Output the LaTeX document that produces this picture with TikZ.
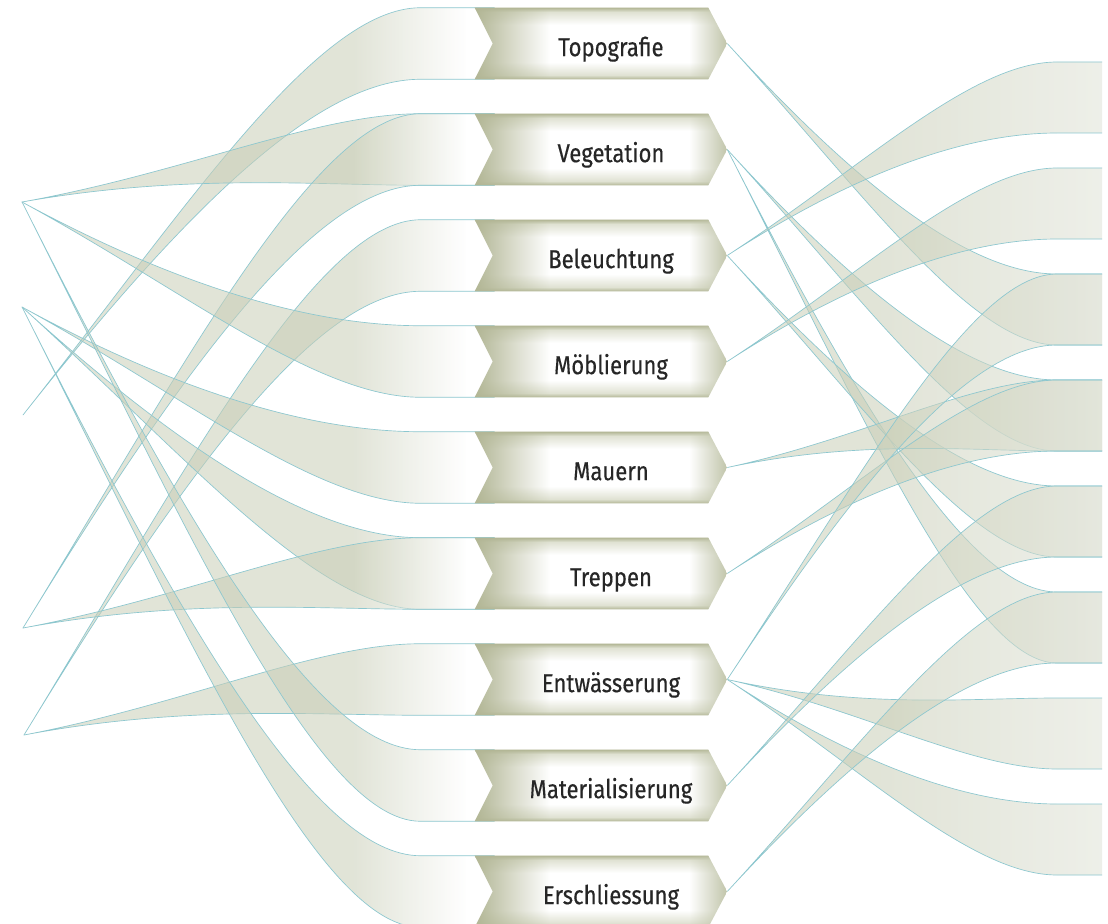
\documentclass[tikz,border=0pt]{standalone}
\usepackage{fontspec}
\setmainfont{Fira Sans}[FakeStretch=0.85,FakeBold=0.4]
\usetikzlibrary{calc,fadings}
\definecolor{bandc}{HTML}{C9CEB7}
\definecolor{bandlight}{HTML}{E0E3D7}
\definecolor{edgec}{HTML}{8CC7CF}
\definecolor{boxolive}{HTML}{B2B695}
\definecolor{boxlight}{HTML}{E0E2D3}
\definecolor{txtc}{HTML}{262626}
\pgfdeclarehorizontalshading{lfade}{100bp}{color(0bp)=(bandc); color(60bp)=(bandc); color(72bp)=(white); color(100bp)=(white)}
\pgfdeclarehorizontalshading{rfade}{100bp}{color(0bp)=(bandc); color(45bp)=(bandc); color(75bp)=(bandlight); color(100bp)=(bandlight)}
\pgfdeclareverticalshading{boxv}{100bp}{color(0bp)=(boxolive); color(25bp)=(boxolive); color(28bp)=(boxlight); color(37bp)=(white); color(63bp)=(white); color(72bp)=(boxlight); color(75bp)=(boxolive); color(100bp)=(boxolive)}
\pgfdeclarelayer{back}
\pgfdeclarelayer{boxes}
\pgfsetlayers{back,boxes,main}
\tikzset{
  boxnode/.style={minimum width=189pt, minimum height=53.25pt, inner sep=0pt, text height=19pt, text depth=0pt, text=txtc, font=\fontsize{19.5pt}{22pt}\selectfont},
  ribbonedge/.style={draw=edgec, line width=0.5pt, line join=round},
  lribbonfill/.style={shading=lfade, fill opacity=0.55},
  rribbonfill/.style={shading=rfade, fill opacity=0.55},
}
\newcommand\boxshape[1]{%
 \begin{pgfonlayer}{boxes}
  \shade[shading=boxv] (#1.north west) -- ($(#1.north east)+(-19,0)$) -- (#1.east) -- ($(#1.south east)+(-19,0)$) -- (#1.south west) -- ($(#1.west)+(18,0)$) -- cycle;
  \begin{scope}
   \clip (#1.north west) -- ($(#1.north east)+(-19,0)$) -- (#1.east) -- ($(#1.south east)+(-19,0)$) -- (#1.south west) -- ($(#1.west)+(18,0)$) -- cycle;
   \fill[boxolive, path fading=east] (#1.north west) rectangle ($(#1.south west)+(75,0)$);
   \fill[boxolive!80!white, path fading=west] ($(#1.north east)+(-38,0)$) rectangle (#1.south east);
  \end{scope}
 \end{pgfonlayer}}
\newcommand\lribbon[2]{%
 \coordinate (qT) at (#2.north west);
 \coordinate (qB) at (#2.south west);
 \coordinate (qM) at (#2.west);
 \coordinate (qC) at ($(qM)!0.35!(#1)$);
 \coordinate (qD) at (qC |- qM);
 \coordinate (qP) at ($(#1)!0.55!(qD)$);
 \coordinate (qE) at ($(qM)!0.12!(#1)$);
 \coordinate (qX) at ($(qM)+(20,0)$);
 \begin{pgfonlayer}{back}
  \shade[lribbonfill] (#1) .. controls (qP) and (qC |- qT) .. (qE |- qT) -- (qX |- qT) -- (qX |- qB) -- (qE |- qB) .. controls (qC |- qB) and (qP) .. (#1) -- cycle;
  \draw[ribbonedge] (qX |- qT) -- (qE |- qT) .. controls (qC |- qT) and (qP) .. (#1) .. controls (qP) and (qC |- qB) .. (qE |- qB) -- (qX |- qB);
 \end{pgfonlayer}}
\newcommand\rribbon[2]{%
 \coordinate (qS) at (#1.east);
 \coordinate (qM) at ($(#2t)!0.5!(#2b)$);
 \coordinate (qC) at ($(qM)!0.35!(qS)$);
 \coordinate (qD) at (qC |- qM);
 \coordinate (qP) at ($(qS)!0.55!(qD)$);
 \coordinate (qE) at ($(qM)!0.12!(qS)$);
 \begin{pgfonlayer}{back}
  \shade[rribbonfill] (qS) .. controls (qP) and (qC |- #2t) .. (qE |- #2t) -- (#2t) -- (#2b) -- (qE |- #2b) .. controls (qC |- #2b) and (qP) .. (qS) -- cycle;
  \draw[ribbonedge] (#2t) -- (qE |- #2t) .. controls (qC |- #2t) and (qP) .. (qS) .. controls (qP) and (qC |- #2b) .. (qE |- #2b) -- (#2b);
 \end{pgfonlayer}}
\begin{document}
\begin{tikzpicture}[x=0.75pt, y=-0.75pt]
\useasboundingbox (0,0) rectangle (1108,924);
\begin{pgfonlayer}{back}
 \fill[white] (0,0) rectangle (1108,924);
\end{pgfonlayer}
% left source points
\coordinate (L1) at (22,202);
\coordinate (L2) at (22,307);
\coordinate (L3) at (23,415);
\coordinate (L4) at (23,628);
\coordinate (L5) at (24,735);
% right targets
\coordinate (R1t) at (1102,62);  \coordinate (R1b) at (1102,133);
\coordinate (R2t) at (1102,168); \coordinate (R2b) at (1102,239);
\coordinate (R3t) at (1102,274); \coordinate (R3b) at (1102,345);
\coordinate (R4t) at (1102,380); \coordinate (R4b) at (1102,451);
\coordinate (R5t) at (1102,486); \coordinate (R5b) at (1102,557);
\coordinate (R6t) at (1102,592); \coordinate (R6b) at (1102,663);
\coordinate (R7t) at (1102,698); \coordinate (R7b) at (1102,769);
\coordinate (R8t) at (1102,804); \coordinate (R8b) at (1102,875);
% boxes
\node[boxnode] (topo)   at (601,43.5)  {\hspace*{15pt}Topografie};
\node[boxnode] (veg)    at (601,149.5) {\hspace*{15pt}Vegetation};
\node[boxnode] (bel)    at (601,255.5) {\hspace*{15pt}Beleuchtung};
\node[boxnode] (moeb)   at (601,361.5) {\hspace*{15pt}Möblierung};
\node[boxnode] (mauern) at (601,467.5) {\hspace*{15pt}Mauern};
\node[boxnode] (trep)   at (601,573.5) {\hspace*{15pt}Treppen};
\node[boxnode] (entw)   at (601,679.5) {\hspace*{15pt}Entwässerung};
\node[boxnode] (mat)    at (601,785.5) {\hspace*{15pt}Materialisierung};
\node[boxnode] (ersch)  at (601,891.5) {\hspace*{15pt}Erschliessung};
\boxshape{topo}\boxshape{veg}\boxshape{bel}\boxshape{moeb}\boxshape{mauern}
\boxshape{trep}\boxshape{entw}\boxshape{mat}\boxshape{ersch}
% left ribbons
\lribbon{L3}{topo}
\lribbon{L1}{veg}
\lribbon{L4}{veg}
\lribbon{L5}{bel}
\lribbon{L1}{moeb}
\lribbon{L2}{mauern}
\lribbon{L2}{trep}
\lribbon{L4}{trep}
\lribbon{L5}{entw}
\lribbon{L1}{mat}
\lribbon{L2}{ersch}
% right ribbons
\rribbon{topo}{R3}
\rribbon{veg}{R4}
\rribbon{veg}{R6}
\rribbon{bel}{R1}
\rribbon{bel}{R5}
\rribbon{moeb}{R2}
\rribbon{mauern}{R4}
\rribbon{trep}{R4}
\rribbon{entw}{R3}
\rribbon{entw}{R7}
\rribbon{entw}{R8}
\rribbon{mat}{R5}
\rribbon{ersch}{R6}
\end{tikzpicture}
\end{document}
